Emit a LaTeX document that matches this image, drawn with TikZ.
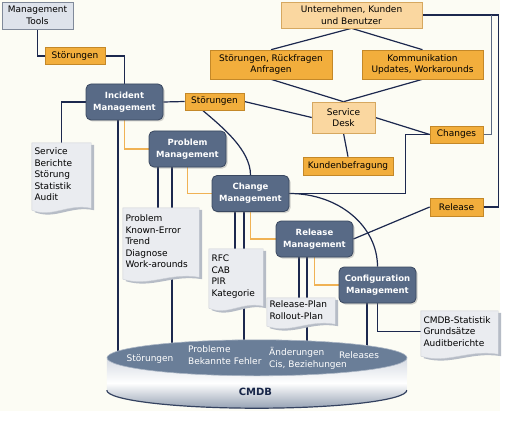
\documentclass[tikz,border=0pt]{standalone}
\usepackage{fontspec}
\setmainfont{DejaVu Sans}
\usepackage{tikz}
\usetikzlibrary{calc, shadows}

\definecolor{CreamBg}   {RGB}{252, 252, 244}
\definecolor{MgmtFill}  {RGB}{88,  106, 134}
\definecolor{MgmtDraw}  {RGB}{58,  72,  96}
\definecolor{TagFill}   {RGB}{242, 174, 60}
\definecolor{TagDraw}   {RGB}{196, 136, 40}
\definecolor{PaleFill}  {RGB}{250, 215, 160}
\definecolor{PaleDraw}  {RGB}{214, 168, 96}
\definecolor{ToolFill}  {RGB}{222, 227, 235}
\definecolor{ToolDraw}  {RGB}{128, 138, 154}
\definecolor{LinkNavy}  {RGB}{28,  40,  78}
\definecolor{SubGray}   {RGB}{90,  104, 128}
\definecolor{FlowOrange}{RGB}{240, 178, 84}
\definecolor{DocFill}   {RGB}{234, 236, 240}
\definecolor{DocShade}  {RGB}{182, 188, 198}
\definecolor{CylTop}    {RGB}{106, 126, 152}
\definecolor{CylLight}  {RGB}{214, 219, 227}
\definecolor{CylShade}  {RGB}{150, 162, 180}
\definecolor{CylDark}   {RGB}{52,  66,  96}
\definecolor{CmdbText}  {RGB}{24,  38,  72}

\pgfdeclarelayer{bg}
\pgfdeclarelayer{lines}
\pgfdeclarelayer{shapes}
\pgfsetlayers{bg,lines,shapes,main}

\newcommand{\tagfont}{\fontsize{9}{11.5}\selectfont}
\newcommand{\mgmtfont}{\fontsize{8.5}{12}\selectfont\bfseries}

% document shape behind a doc node
\newcommand{\drawdoc}[1]{%
  \begin{pgfonlayer}{shapes}
    \fill[DocShade] ($(#1.north west)+(3,2)$) -- ($(#1.north east)+(3,2)$)
      -- ($(#1.south east)+(3,4)$)
      .. controls ($(#1.south east)!0.4!(#1.south west)+(3,-1)$)
      and ($(#1.south west)!0.35!(#1.south east)+(3,14)$)
      .. ($(#1.south west)+(3,6)$) -- cycle;
    \fill[DocFill, draw=DocShade!70, line width=0.4pt]
      (#1.north west) -- (#1.north east)
      -- ($(#1.south east)+(0,2)$)
      .. controls ($(#1.south east)!0.4!(#1.south west)+(0,-3)$)
      and ($(#1.south west)!0.35!(#1.south east)+(0,12)$)
      .. ($(#1.south west)+(0,4)$) -- cycle;
  \end{pgfonlayer}}

\begin{document}
\begin{tikzpicture}[
  x=1pt, y=-1pt,
  mgmt/.style = {
    rectangle, rounded corners=5pt,
    minimum width=77pt, minimum height=36pt,
    align=center, font=\mgmtfont, text=white,
    fill=MgmtFill, draw=MgmtDraw, line width=0.8pt,
    drop shadow={shadow xshift=1.5pt, shadow yshift=-1.5pt, opacity=0.35}
  },
  tag/.style = {
    rectangle, minimum height=17pt, inner sep=2pt,
    align=center, font=\tagfont,
    fill=TagFill, draw=TagDraw, line width=0.6pt,
    drop shadow={shadow xshift=1pt, shadow yshift=-1pt, opacity=0.3}
  },
  pale/.style = {tag, fill=PaleFill, draw=PaleDraw},
  tool/.style = {tag, fill=ToolFill, draw=ToolDraw},
  doc/.style = {rectangle, inner sep=2.5pt, align=left, font=\tagfont},
  cyltext/.style = {font=\tagfont, text=white, align=left, inner sep=0pt},
  link/.style = {draw=LinkNavy, line width=1.2pt},
  sublink/.style = {draw=SubGray, line width=0.8pt},
  flow/.style = {draw=FlowOrange, line width=1.2pt}
]

% Hintergrund
\begin{pgfonlayer}{bg}
  \fill[white] (0,0) rectangle (510,422);
  \fill[CreamBg] (0,0) rectangle (500,411);
\end{pgfonlayer}
\useasboundingbox (0,0) rectangle (510,422);

% Management Tools / Incident
\node[tool, minimum width=71pt, minimum height=27pt] (tools) at (37.5,15.5)
  {Management\\Tools};
\node[tag, minimum width=60pt] (stoer1) at (75,56) {Störungen};
\node[mgmt] (im) at (124.5,102) {Incident\\Management};
\node[tag, minimum width=59pt] (stoer2) at (214.5,101.5) {Störungen};

% Prozesse
\node[mgmt] (pm) at (187.5,149) {Problem\\Management};
\node[mgmt] (cm) at (250.5,193.5) {Change\\Management};
\node[mgmt] (rm) at (314.5,239) {Release\\Management};
\node[mgmt] (cfg) at (377.5,285) {Configuration\\Management};

% Service Desk
\node[pale, minimum width=141pt, minimum height=26pt] (unt) at (351.5,15)
  {Unternehmen, Kunden\\und Benutzer};
\node[tag, minimum width=122pt, minimum height=29pt] (rueck) at (271,64.5)
  {Störungen, Rückfragen\\Anfragen};
\node[tag, minimum width=121pt, minimum height=29pt] (komm) at (422.5,64.5)
  {Kommunikation\\Updates, Workarounds};
\node[pale, minimum width=63pt, minimum height=31pt] (sd) at (343.5,117.5)
  {Service\\Desk};
\node[tag, minimum width=90pt, minimum height=18pt] (kunden) at (348,166)
  {Kundenbefragung};
\node[tag, minimum width=53pt] (changes) at (456.5,134.5) {Changes};
\node[tag, minimum width=53pt, minimum height=18pt] (release) at (456.5,207)
  {Release};

% Dokumente
\node[doc, minimum width=59pt, minimum height=63pt, text width=54pt] (servicedoc)
  at (61.5,174.5) {Service\\Berichte\\Störung\\Statistik\\Audit};
\node[doc, minimum width=76pt, minimum height=67pt, text width=71pt] (problemdoc)
  at (161,241.5) {Problem\\Known-Error\\Trend\\Diagnose\\Work-arounds};
\node[doc, minimum width=54pt, minimum height=55pt, text width=49pt] (rfcdoc)
  at (236,276.5) {RFC\\CAB\\PIR\\Kategorie};
\node[doc, minimum width=68pt, minimum height=24pt, text width=63pt] (rpdoc)
  at (301,310) {Release-Plan\\Rollout-Plan};
\node[doc, minimum width=77pt, minimum height=41pt, text width=72pt] (statdoc)
  at (459.5,331.5) {CMDB-Statistik\\Grundsätze\\Auditberichte};
\drawdoc{servicedoc}
\drawdoc{problemdoc}
\drawdoc{rfcdoc}
\drawdoc{rpdoc}
\drawdoc{statdoc}

% CMDB
\node[minimum width=300pt, minimum height=68pt, inner sep=0pt] (cmdb) at (257,374) {};
\begin{pgfonlayer}{shapes}
  \shade[top color=CylLight, bottom color=CylShade, middle color=white]
    ($(cmdb.north west)+(0,18)$) -- ($(cmdb.south west)+(0,-18)$)
    arc[start angle=180, end angle=360, x radius=150pt, y radius=18pt]
    -- ($(cmdb.north east)+(0,18)$) -- cycle;
  \draw[CylDark, line width=1.2pt] ($(cmdb.south west)+(0,-18)$)
    arc[start angle=180, end angle=360, x radius=150pt, y radius=18pt];
  \fill[CylTop, draw=CylLight!60!CylTop, line width=0.6pt]
    ($(cmdb.north)+(0,18)$) ellipse[x radius=150pt, y radius=18pt];
\end{pgfonlayer}
\node[font=\fontsize{10}{12}\selectfont\bfseries, text=CmdbText] (cmdbname)
  at (255.5,392) {CMDB};
\node[cyltext] (cyl1) at (150,359) {Störungen};
\node[cyltext, anchor=west] (cyl2) at (188,355) {Probleme\\Bekannte Fehler};
\node[cyltext, anchor=west] (cyl3) at (269,358.5) {Änderungen\\Cis, Beziehungen};
\node[cyltext] (cyl4) at (359,355) {Releases};

% Verbindungen
\begin{pgfonlayer}{lines}
  \draw[link] (tools.south) |- (stoer1.west);
  \draw[link] (stoer1.east) -| (im.north);
  \draw[link] (im.east) -- (stoer2.west);
  \draw[link] (stoer2.east) -- (sd.west);
  \draw[link] (im.west) -| (servicedoc.north);
  \coordinate (stoer2foot) at ($(stoer2.south west)!0.3!(stoer2.south east)$);
  \draw[link] (stoer2foot) .. controls +(20,17) and +(0,-25) .. (cm.north);

  % Incident
  \coordinate (imfoot) at ($(im.south)+(-6.5,0)$);
  \draw[link] (imfoot) -- (imfoot |- cmdb.center);
  \draw[flow] (im.south) |- (pm.west);

  % Problem
  \coordinate (pmfoot1) at ($(pm.south)+(-29.5,0)$);
  \coordinate (pmfoot2) at ($(pm.south)+(-15.5,0)$);
  \draw[link] (pmfoot1) -- (pmfoot1 |- problemdoc.north);
  \draw[link] (pmfoot2) -- (pmfoot2 |- cmdb.center);
  \draw[flow] (pm.south) |- (cm.west);

  % Change
  \coordinate (cmfoot1) at ($(cm.south)+(-15.5,0)$);
  \coordinate (cmfoot2) at ($(cm.south)+(-6.5,0)$);
  \draw[link] (cmfoot1) -- (cmfoot1 |- rfcdoc.north);
  \draw[link] (cmfoot2) -- (cmfoot2 |- cmdb.center);
  \draw[flow] (cm.south) |- (rm.west);
  \coordinate (chturn) at ($(changes.west)+(-24,0)$);
  \draw[link] (cm.east) -| (chturn) -- (changes.west);
  \draw[link] (cm.east) .. controls +(50,0) and +(0,-40) .. (cfg.north);

  % Release
  \coordinate (rmfoot1) at ($(rm.south)+(-15.5,0)$);
  \coordinate (rmfoot2) at ($(rm.south)+(-7.5,0)$);
  \draw[link] (rmfoot1) -- (rmfoot1 |- rpdoc.north);
  \draw[link] (rmfoot2) -- (rmfoot2 |- cmdb.center);
  \draw[flow] (rm.south) |- (cfg.west);
  \draw[link] (rm.east) -- (release.west);

  % Configuration
  \coordinate (cfgfoot) at ($(cfg.south)+(-10.5,0)$);
  \draw[link] (cfgfoot) -- (cfgfoot |- cmdb.center);
  \draw[link] (cfg.south) |- (statdoc.west);

  % Service Desk
  \draw[link] (unt.south) -- (rueck.north);
  \draw[link] (unt.south) -- (komm.north);
  \draw[link] (sd.north) -- (rueck.south);
  \draw[link] (sd.north) -- (komm.south);
  \draw[link] (sd.south) -- (kunden.north);
  \draw[link] (sd.east) -- (changes.west);
  \coordinate (edge1) at ($(unt.east)+(76,0)$);
  \coordinate (edge2) at ($(unt.east)+(69,0)$);
  \draw[link, line width=1.5pt] (unt.east) -- (edge1) |- (release.east);
  \draw[sublink] (edge2) |- (changes.east);
\end{pgfonlayer}

\end{tikzpicture}
\end{document}
